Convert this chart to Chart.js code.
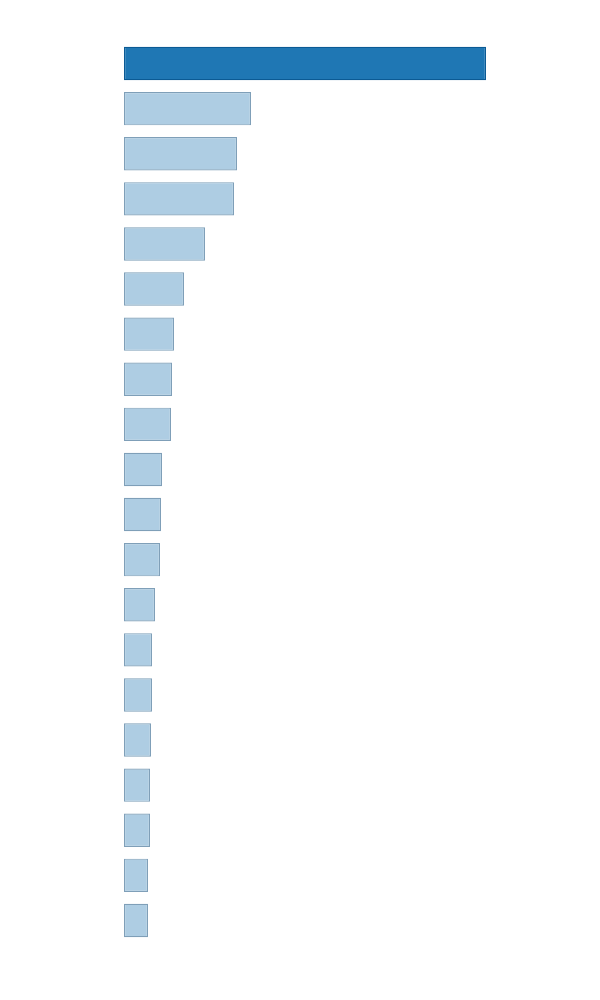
<!DOCTYPE html>
<html>
<head>
<meta charset="utf-8">
<script src="https://cdn.jsdelivr.net/npm/chart.js@4"></script>
<style>
  html, body { margin: 0; padding: 0; background: #ffffff; }
  #wrap { width: 600px; height: 1000px; }
</style>
</head>
<body>
<div id="wrap"><canvas id="c" width="600" height="1000"></canvas></div>
<script>
const categories = ["Item 1","Item 2","Item 3","Item 4","Item 5","Item 6","Item 7","Item 8","Item 9","Item 10",
                    "Item 11","Item 12","Item 13","Item 14","Item 15","Item 16","Item 17","Item 18","Item 19","Item 20"];
const values = [362,127,113,110,81,60,50,48,47,38,37,36,31,28,28,27,26,26,24,24];
const highlightIndex = 0;

const fills = values.map((v, i) => i === highlightIndex ? "#1f77b4" : "#aecde3");
const borders = values.map((v, i) => i === highlightIndex ? "#0b5a94" : "#7f9fb8");

new Chart(document.getElementById("c"), {
  type: "bar",
  data: {
    labels: categories,
    datasets: [{
      data: values,
      backgroundColor: fills,
      borderColor: borders,
      borderWidth: 1.2,
      borderSkipped: false,
      categoryPercentage: 1.0,
      barPercentage: 0.74
    }]
  },
  options: {
    indexAxis: "y",
    responsive: false,
    animation: false,
    devicePixelRatio: 1,
    layout: { padding: { left: 124, right: 114, top: 41, bottom: 57 } },
    plugins: { legend: { display: false }, tooltip: { enabled: false } },
    scales: {
      x: { display: false, min: 0, max: Math.max(...values) },
      y: { display: false }
    }
  }
});
</script>
</body>
</html>
